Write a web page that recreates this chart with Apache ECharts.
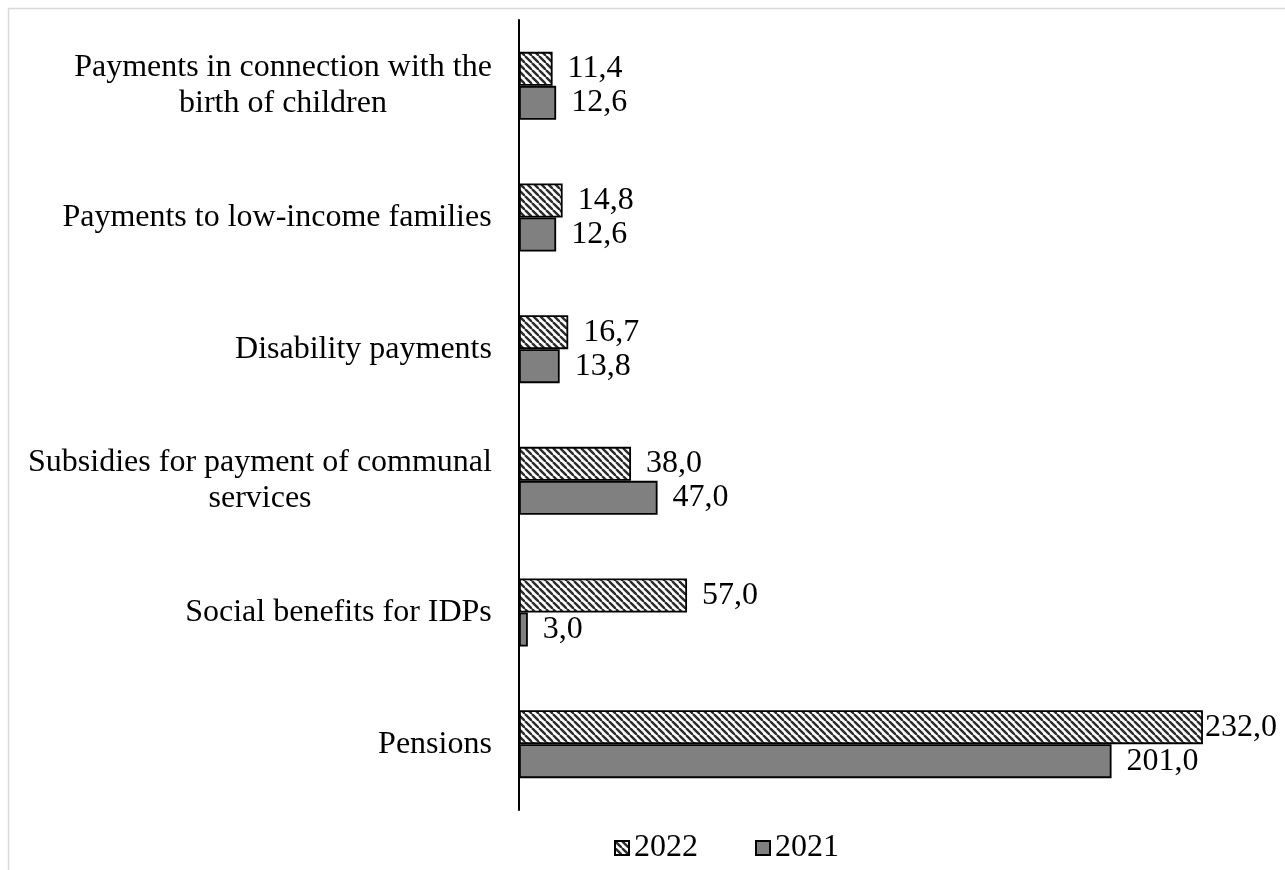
<!DOCTYPE html>
<html>
<head>
<meta charset="utf-8">
<script src="https://cdn.jsdelivr.net/npm/echarts@6/dist/echarts.min.js"></script>
<style>
  html, body { margin: 0; padding: 0; background: #ffffff; }
  #chart { width: 1285px; height: 870px; }
</style>
</head>
<body>
<div id="chart"></div>
<script>
// Social payments by type, top to bottom as shown on the chart
const categories = [
  'Payments in connection with the\nbirth of children',
  'Payments to low-income families',
  'Disability payments',
  'Subsidies for payment of communal\nservices',
  'Social benefits for IDPs',
  'Pensions'
];
const seriesNames = ['2022', '2021'];
const values2022 = [11.4, 14.8, 16.7, 38.0, 57.0, 232.0];
const values2021 = [12.6, 12.6, 13.8, 47.0, 3.0, 201.0];

const FONT = '"Liberation Serif", "Times New Roman", serif';
const FS = 32;

// Diagonal hatch fill for the 2022 bars
function hatchPattern() {
  const s = 7;
  const c = document.createElement('canvas');
  c.width = s; c.height = s;
  const g = c.getContext('2d');
  g.fillStyle = '#ffffff';
  g.fillRect(0, 0, s, s);
  g.strokeStyle = '#2b2b2b';
  g.lineWidth = 2.4;
  for (const x0 of [-s, 0, s]) {
    g.beginPath();
    g.moveTo(x0, 0);
    g.lineTo(x0 + s, s);
    g.stroke();
  }
  return c;
}

// Multi-line category labels: lines centred inside a block sized to the widest line
const measureCtx = document.createElement('canvas').getContext('2d');
measureCtx.font = FS + 'px ' + FONT;
const rich = {};
categories.forEach((cat, i) => {
  const lines = cat.split('\n');
  const w = Math.max(...lines.map(l => measureCtx.measureText(l.trim()).width));
  rich['c' + i] = {
    width: Math.ceil(w), align: 'center',
    fontSize: FS, fontFamily: FONT, color: '#000', lineHeight: 36
  };
});

const labelFmt = v => v.toFixed(1).replace('.', ',');

function barData(values) {
  return values.map(v => ({
    value: v,
    label: v > 220 ? { distance: 2 } : undefined
  }));
}

const chart = echarts.init(document.getElementById('chart'), null, { renderer: 'canvas' });

const valueLabel = {
  show: true,
  position: 'right',
  distance: 15,
  fontFamily: FONT,
  fontSize: FS,
  color: '#000',
  formatter: p => labelFmt(p.value)
};

chart.setOption({
  backgroundColor: '#ffffff',
  animation: false,
  graphic: [{
    type: 'rect',
    shape: { x: 8.5, y: 8.5, width: 1400, height: 1000 },
    style: { fill: 'none', stroke: '#d9d9d9', lineWidth: 1.5 },
    silent: true
  }],
  grid: { left: 519, top: 20, bottom: 60, right: 29, containLabel: false },
  xAxis: {
    type: 'value',
    min: 0,
    max: 250,
    show: false,
    splitLine: { show: false }
  },
  yAxis: {
    type: 'category',
    inverse: true,
    data: categories,
    axisLine: { show: true, lineStyle: { color: '#000', width: 2 } },
    axisTick: { show: false },
    axisLabel: {
      margin: 27,
      fontFamily: FONT,
      fontSize: FS,
      color: '#000',
      lineHeight: 36,
      formatter: (value, idx) => value.split('\n').map(l => '{c' + idx + '|' + l.trim() + '}').join('\n'),
      rich: rich
    }
  },
  legend: {
    data: seriesNames,
    left: 609,
    top: 827,
    itemWidth: 14,
    itemHeight: 14,
    itemGap: 57,
    icon: 'rect',
    textStyle: { fontFamily: FONT, fontSize: FS, color: '#000' }
  },
  series: [
    {
      name: seriesNames[0],
      type: 'bar',
      data: barData(values2022),
      barWidth: 34,
      barGap: '0%',
      itemStyle: {
        color: { image: hatchPattern(), repeat: 'repeat' },
        borderColor: '#000',
        borderWidth: 1.8
      },
      label: valueLabel
    },
    {
      name: seriesNames[1],
      type: 'bar',
      data: barData(values2021),
      barWidth: 34,
      barGap: '0%',
      itemStyle: {
        color: '#808080',
        borderColor: '#000',
        borderWidth: 1.8
      },
      label: valueLabel
    }
  ]
});
</script>
</body>
</html>
